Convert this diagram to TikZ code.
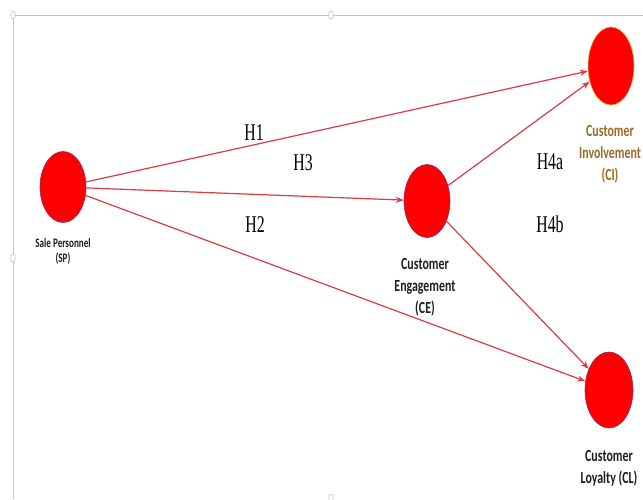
\documentclass[tikz,border=0pt]{standalone}
\usepackage{fontspec}
\setmainfont{Carlito}
\newfontfamily\hypfont[FakeStretch=0.66]{Liberation Serif}
\newfontfamily\labfont[FakeStretch=0.70]{Carlito}
\usetikzlibrary{arrows.meta,positioning,shapes.geometric}
\definecolor{redfill}{HTML}{FF0000}
\definecolor{rim}{HTML}{8E2A63}
\definecolor{goldrim}{HTML}{E9B233}
\definecolor{link}{HTML}{DB3B43}
\definecolor{ink}{HTML}{1E1E1E}
\definecolor{bronze}{HTML}{9A6A22}
\definecolor{frame}{HTML}{C6C6C6}
\tikzset{
  construct/.style={ellipse,draw=rim,fill=redfill,line width=.6pt,minimum width=46pt,minimum height=73pt,inner sep=0pt},
  relation/.style={-{Stealth[length=8pt,width=6pt]},line width=1.2pt,draw=link},
  caption/.style={align=center,font=\labfont\bfseries\fontsize{17}{22}\selectfont,text=ink,inner sep=1pt},
  hyp/.style={font=\hypfont\fontsize{24}{26}\selectfont,text=black,inner sep=0pt},
  handle/.style={draw=frame,fill=white,rounded corners=1pt,minimum width=4pt,minimum height=7pt,inner sep=0pt,line width=.7pt}
}

\begin{document}
\begin{tikzpicture}[x=1pt,y=-1pt]
  \useasboundingbox (0,0) rectangle (643,499);
  % Selection frame of the pasted figure.
  \draw[frame,line width=1pt] (13,499) -- (13,15) -- (643,15);
  \node[handle] (hTL) at (13,15) {};
  \node[handle] (hTM) at (331,15) {};
  \node[handle] (hML) at (13,258) {};
  \node[handle] (hBM) at (331,498) {};

  % Constructs.
  \node[construct,minimum height=71pt] (sp) at (63,187) {};
  \node[caption,font=\labfont\bfseries\fontsize{13}{15.5}\selectfont,below=14pt of sp] {Sale Personnel\\(SP)};

  \node[construct] (ce) at (427,201) {};
  \node[caption,below=19pt of ce,xshift=-2pt] {Customer\\Engagement\\(CE)};

  \node[construct,draw=goldrim,minimum height=78pt] (ci) at (611,66) {};
  \node[caption,text=bronze,below=19pt of ci,xshift=-1pt] {Customer\\Involvement\\(CI)};

  \node[construct,minimum width=48pt,minimum height=76pt] (cl) at (609,390) {};
  \node[caption,below=21pt of cl] {Customer\\Loyalty (CL)};

  % Hypothesised paths.
  \draw[relation] (sp) -- (ci);
  \draw[relation] (sp) -- (ce);
  \draw[relation] (sp) -- (cl);
  \draw[relation] (ce) -- (ci);
  \draw[relation] (ce) -- (cl);

  \node[hyp] (h1) at (254,133) {H1};
  \node[hyp] (h3) at (303,163) {H3};
  \node[hyp] (h2) at (255,225) {H2};
  \node[hyp] (h4a) at (550,162) {H4a};
  \node[hyp] (h4b) at (550,224) {H4b};
\end{tikzpicture}
\end{document}
